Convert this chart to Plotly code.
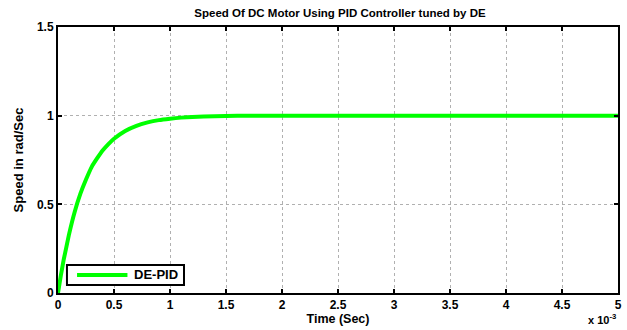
import plotly.graph_objects as go

time_ms = [0, 0.025, 0.05, 0.075, 0.1, 0.15, 0.2, 0.25, 0.3, 0.35, 0.4, 0.45, 0.5, 0.6, 0.7, 0.8, 0.9,
           1.0, 1.1, 1.2, 1.4, 1.6, 1.8, 2.0, 3.0, 4.0, 5.0]
speed = [0, 0.097, 0.185, 0.26, 0.335, 0.46, 0.56, 0.64, 0.71, 0.76, 0.805, 0.84, 0.87, 0.914, 0.943, 0.962, 0.975,
         0.983, 0.989, 0.993, 0.997, 0.999, 1.0, 1.0, 1.0, 1.0, 1.0]
x_ticks = [0, 0.5, 1, 1.5, 2, 2.5, 3, 3.5, 4, 4.5, 5]
y_ticks = [0, 0.5, 1, 1.5]
series_name = "DE-PID"

FONT = "Liberation Sans, Arial, sans-serif"
GREEN = "#00FF00"

fig = go.Figure()
fig.add_trace(go.Scatter(x=time_ms, y=speed, mode="lines", name=series_name, showlegend=False,
                         line=dict(color=GREEN, width=4, shape="spline", smoothing=0.5)))

axis_common = dict(showline=True, linecolor="black", linewidth=2, mirror="ticks",
                   ticks="inside", ticklen=4, tickwidth=2, tickcolor="black",
                   showgrid=True, gridcolor="#b0b0b0", gridwidth=1, griddash="dot",
                   zeroline=False,
                   tickfont=dict(family=FONT, size=12, color="black"))

fig.update_xaxes(range=[0, 5], tickvals=x_ticks, ticktext=[f"<b>{v:g}</b>" for v in x_ticks],
                 title=dict(text="<b>Time (Sec)</b>", font=dict(family=FONT, size=12.5, color="black"), standoff=0),
                 **axis_common)
fig.update_yaxes(range=[0, 1.5], tickvals=y_ticks, ticktext=[f"<b>{v:g}</b>" for v in y_ticks],
                 title=dict(text="<b>Speed in rad/Sec</b>", font=dict(family=FONT, size=13, color="black"), standoff=10),
                 **axis_common)

# manual legend (box, sample line, label)
fig.add_shape(type="rect", xref="paper", yref="paper", x0=0.016, x1=0.225, y0=0.030, y1=0.105,
              line=dict(color="black", width=2), fillcolor="white", layer="above")
fig.add_shape(type="line", xref="paper", yref="paper", x0=0.034, x1=0.124, y0=0.0677, y1=0.0677,
              line=dict(color=GREEN, width=4), layer="above")

fig.update_layout(
    width=627, height=330,
    margin=dict(l=58, r=5, t=27, b=37),
    paper_bgcolor="white", plot_bgcolor="white",
    title=dict(text="<b>Speed Of DC Motor Using PID Controller tuned by DE</b>",
               font=dict(family=FONT, size=11.5, color="black"),
               x=(58 + 622) / 2 / 627, xanchor="center", y=1 - 13 / 330, yanchor="middle"),
    showlegend=False,
    annotations=[
        dict(text=f"<b>{series_name}</b>", xref="paper", yref="paper", x=0.133, y=0.0677,
             xanchor="left", yanchor="middle", showarrow=False,
             font=dict(family=FONT, size=13, color="black")),
        dict(text="<b>x 10<sup>-3</sup></b>", xref="paper", yref="paper",
             x=1.0, y=-0.13, xanchor="right", yanchor="bottom", showarrow=False,
             font=dict(family=FONT, size=11, color="black")),
    ],
)

fig.write_html("out.html")
